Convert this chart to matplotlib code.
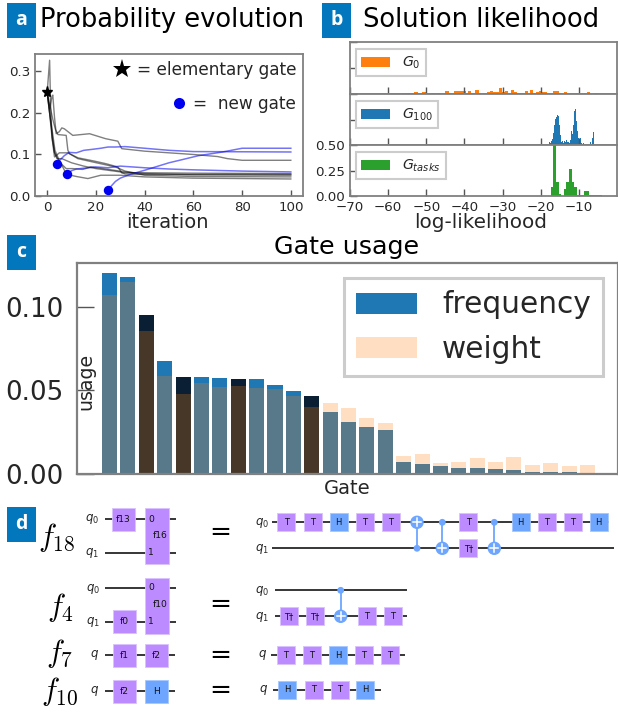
import matplotlib
matplotlib.use("Agg")
import matplotlib.pyplot as plt
from matplotlib.patches import Patch, Rectangle, Circle

# ---------- panel a data
iters_peak = [0, 1, 1.4, 2, 3, 4, 6, 10, 15, 20, 30, 32, 40, 60, 100]
peak = [.25, .327, .22, .14, .105, .09, .09, .08, .072, .066, .058, .053, .052, .052, .052]
iters_g2 = [0, 1, 2, 2.3, 3, 3.7, 5, 6, 7, 10.5, 14, 17.4, 24, 29, 30.6, 40, 60, 70, 74, 80, 100]
g2 = [.25, .21, .24, .243, .19, .15, .155, .164, .162, .146, .148, .15, .138, .132, .114, .108, .1, .095, .09, .086, .086]
iters_g3 = [0, 1, 2.3, 3.4, 4.4, 7.8, 8.5, 9.2, 12.6, 19.4, 24, 29, 30.6, 40, 60, 100]
g3 = [.25, .22, .185, .16, .148, .146, .11, .102, .092, .084, .078, .07, .056, .056, .055, .054]
iters_g4 = [0, 1, 2, 3, 5, 8.5, 12.6, 19.4, 28, 32, 40, 60, 100]
g4 = [.25, .2, .14, .094, .104, .104, .09, .081, .07, .06, .05, .047, .046]
iters_g5 = [0, 1, 2, 3, 5, 7.8, 10.5, 14.6, 18, 24, 32, 40, 60, 100]
g5 = [.25, .2, .15, .105, .082, .066, .066, .064, .07, .065, .058, .054, .051, .05]
iters_g6 = [0, 1, 2, 3.2, 5, 8, 12, 16.7, 22, 30, 40, 60, 100]
g6 = [.25, .2, .16, .11, .085, .052, .047, .042, .05, .05, .046, .043, .041]
gray_runs = [(iters_peak, peak), (iters_g2, g2), (iters_g3, g3), (iters_g4, g4), (iters_g5, g5), (iters_g6, g6)]

iters_b1 = [4, 5, 7, 9, 12, 15, 18, 22, 25, 28, 32, 40, 50, 60, 100]
b1 = [.077, .085, .097, .105, .104, .11, .112, .115, .118, .118, .119, .115, .11, .107, .106]
iters_b2 = [8, 9, 10, 12, 15, 20, 25, 30, 40, 50, 60, 80, 100]
b2 = [.052, .056, .061, .065, .067, .07, .068, .072, .068, .065, .063, .06, .058]
iters_b3 = [25, 26, 28, 30, 34, 40, 50, 55, 62, 72, 80, 100]
b3 = [.015, .022, .035, .043, .052, .062, .08, .087, .097, .106, .115, .115]
blue_runs = [(iters_b1, b1), (iters_b2, b2), (iters_b3, b3)]
star_iter, star_val = [0], [.25]
new_iter = [4, 8, 25]
new_val = [.077, .052, .015]

# ---------- panel b data
g0_edges = [-55.5, -53.2, -52.3, -51.1, -50.1, -48.8, -47.9, -47.4, -46.5, -45, -44.1, -42.8, -39.7, -39.1,
            -38.25, -37.1, -36.06, -33.96, -33.17, -32.38, -31.06, -30.27, -29.48, -28.69, -27.9, -27.12,
            -26.33, -24.22, -23.43, -22.9, -22.12, -21.33, -20.54, -19.75, -18.43, -16.85, -15.27, -13.96,
            -13.17, -11.06, -10.27, -8.69, -7.9, -7.12, -5.8, -5.0]
g0_vals = [.01, .02, .01, .015, 0, .01, 0, .01, 0, .03, .01, .03, .01, .03, .01, .04, .01, .02, .03, .02, .06,
           .02, .03, .01, .04, .02, .01, .03, 0, .04, .01, .02, .03, .02, 0, .03, 0, .02, 0, .01, 0, .01, .02,
           0, .01]
g100_x = [-20.54, -18.7, -18.43, -17.9, -17.64, -17.38, -17.12, -16.85, -16.59, -16.33, -16.06, -15.8, -15.54,
          -15.27, -15.01, -14.75, -14.48, -14.22, -13.96, -13.69, -13.43, -13.17, -12.91, -12.64, -12.38,
          -12.12, -11.85, -11.59, -11.33, -11.06, -10.8, -10.54, -10.27, -10.01, -9.75, -9.48, -9.22, -8.96,
          -7.64, -7.12, -6.59, -6.33]
g100_vals = [.01, .01, .01, .03, .02, .04, .06, .12, .2, .255, .275, .295, .285, .2, .1, .03, .04, .02, .04,
             .03, .05, .03, .03, .02, .05, .14, .11, .2, .335, .355, .235, .14, .07, .04, .07, .02, .01, .02,
             .01, .03, .07, .13]
gt_edges = [-17.4, -16.85, -16.06, -15.27, -14.75, -14.0, -13.4, -12.6, -11.85, -11.3, -10.5, -8.7, -7.4, -4.75, -4.0]
gt_vals = [.085, .6, .14, .02, 0, .07, .14, .265, .14, .09, .005, .05, .005, .01]

# ---------- panel c data
freq = [.1204, .118, .0952, .0677, .0581, .0581, .0575, .0569, .0569, .0533, .0497, .0467, .0371, .0311, .0281,
        .0263, .0072, .006, .0048, .0036, .0036, .003, .0024, .0012, .0012, .0012, .0006]
weight = [.1072, .115, .0856, .0587, .0479, .0545, .0521, .0527, .0515, .0509, .0467, .0401, .0425, .0395, .0335,
          .0305, .0108, .012, .0066, .0072, .0096, .0072, .0102, .0054, .0066, .0048, .0054]
elementary = [2, 4, 7, 11]

# ---------- panel d data
PURPLE, GBLUE = "#bb8bff", "#6ea6ff"
row_f18_q0 = ["T", "T", "H", "T", "T"]
row_f18_rest = ["H", "T", "T", "H"]
row_f4 = ["T†", "T†"]
row_f7 = ["T", "T", "H", "T", "T"]
row_f10 = ["H", "T", "T", "H"]

W, H = 618, 713
DPI = 100
TXT = "#262626"
SPINE = "#808080"
plt.rcParams["font.family"] = "DejaVu Sans"
plt.rcParams["mathtext.fontset"] = "dejavusans"
fig = plt.figure(figsize=(W / DPI, H / DPI), dpi=DPI, facecolor="white")


def axes_px(l, t, r, b):
    return fig.add_axes([l / W, 1 - b / H, (r - l) / W, (b - t) / H])


def style(ax, lab=9.6, length=4, lw=1.3):
    for s in ax.spines.values():
        s.set_color(SPINE)
        s.set_linewidth(lw)
    ax.tick_params(direction="in", length=length, width=1.0, color="#555555", labelsize=lab,
                   labelcolor=TXT, pad=3.5)


# ---------- panel a
ax = axes_px(35, 54, 303, 196)
for xs, ys in gray_runs:
    ax.plot(xs, ys, color="#000000", alpha=.5, lw=1.0)
for xs, ys in blue_runs:
    ax.plot(xs, ys, color="#0000ee", alpha=.55, lw=1.1)
ax.plot(star_iter, star_val, "*", color="k", ms=8, zorder=5)
ax.plot(new_iter, new_val, "o", color="#0000f0", ms=6.8, mew=0, zorder=5)
ax.set_xlim(-5, 105)
ax.set_ylim(0, .342)
ax.set_xticks([0, 20, 40, 60, 80, 100])
ax.set_yticks([0, .1, .2, .3])
ax.set_yticklabels(["0.0", "0.1", "0.2", "0.3"])
style(ax)
ax.text(.975, .885, "= elementary gate", transform=ax.transAxes, ha="right", va="center", fontsize=12.2, color=TXT)
ax.text(.975, .645, "=  new gate", transform=ax.transAxes, ha="right", va="center", fontsize=12.2, color=TXT)
ax.plot([.325], [.894], "*", transform=ax.transAxes, color="k", ms=14, mew=0)
ax.plot([.537], [.655], "o", transform=ax.transAxes, color="#0000f0", ms=8, mew=0)

# ---------- panel b
rows = [(42, 94), (94, 145), (145, 196)]
bax = [axes_px(350, t, 617, b) for t, b in rows]
bax[0].stairs(g0_vals, g0_edges, fill=True, color="C1")
bax[1].bar(g100_x, g100_vals, width=.263, align="edge", color="C0")
bax[2].stairs(gt_vals, gt_edges, fill=True, color="C2")
labels = [("$G_0$", "C1"), ("$G_{100}$", "C0"), ("$G_{tasks}$", "C2")]
for i, (a, (lb, c)) in enumerate(zip(bax, labels)):
    a.set_xlim(-70, 0)
    a.set_ylim(0, .5)
    a.set_xticks(range(-70, 0, 10))
    a.set_yticks([0, .25, .5])
    style(a, length=5)
    if i < 2:
        a.tick_params(labelbottom=False, labelleft=False)
    else:
        a.set_yticklabels(["0.00", "0.25", "0.50"])
    leg = a.legend([Patch(facecolor=c, edgecolor="none")], [lb], loc="upper left", fontsize=10.2, handlelength=2.05,
                   handleheight=.72, handletextpad=.8, borderpad=.38, borderaxespad=.0,
                   bbox_to_anchor=(.022, .86), fancybox=False, framealpha=1, edgecolor="#cccccc")
    leg.get_frame().set_linewidth(1.5)
    for t in leg.get_texts():
        t.set_color(TXT)

# ---------- panel c
cax = axes_px(77, 263, 618, 474)
idx = list(range(len(freq)))
colors = ["#0a1f33" if i in elementary else "C0" for i in idx]
cax.bar(idx, freq, width=.82, color=colors)
cax.bar(idx, weight, width=.82, color="C1", alpha=.25)
cax.set_xlim(-1.77, 27.66)
cax.set_ylim(0, .1263)
cax.set_xticks([])
cax.set_yticks([0, .05, .1])
cax.set_yticklabels(["0.00", "0.05", "0.10"])
style(cax, lab=18.8, length=12, lw=1.6)
cax.tick_params(pad=10)
leg = cax.legend([Patch(facecolor="C0", edgecolor="none"), Patch(facecolor="C1", alpha=.25, edgecolor="none")],
                 ["frequency", "weight"], loc="upper left",
                 bbox_to_anchor=((344 - 77) / 541, (474 - 278) / 211), borderaxespad=0, fontsize=21.3,
                 handlelength=2.06, handleheight=.72, handletextpad=.84, labelspacing=.52, borderpad=.42,
                 fancybox=False, framealpha=1, edgecolor="#cccccc")
leg.get_frame().set_linewidth(2.2)
for t in leg.get_texts():
    t.set_color(TXT)

# ---------- overlay in pixel coordinates
ov = fig.add_axes([0, 0, 1, 1], zorder=10)
ov.set_xlim(0, W)
ov.set_ylim(H, 0)
ov.axis("off")
ov.patch.set_alpha(0)

for letter, x, y in [("a", 7, 3), ("b", 322, 3), ("c", 7, 235), ("d", 7, 507)]:
    ov.add_patch(Rectangle((x, y), 29, 35, color="#0277bd", lw=0))
    ov.text(x + 14.5, y + 17, letter, color="white", fontsize=14, fontweight="bold", family="Open Sans",
            ha="center", va="center")

ov.text(40, 20, "Probability evolution", fontsize=18.5, color="k", va="center", ha="left")
ov.text(363, 20, "Solution likelihood", fontsize=18.5, color="k", va="center", ha="left")
ov.text(347, 247, "Gate usage", fontsize=18.3, color="k", va="center", ha="center")
ov.text(167, 223, "iteration", fontsize=14, color=TXT, va="center", ha="center")
ov.text(481, 223, "log-likelihood", fontsize=14.4, color=TXT, va="center", ha="center")
ov.text(347, 488, "Gate", fontsize=14, color=TXT, va="center", ha="center")
ov.text(86, 381, "usage", fontsize=13.6, color=TXT, rotation=90, va="center", ha="center")


def wire(x0, x1, y):
    ov.plot([x0, x1], [y, y], color="k", lw=1.1, solid_capstyle="butt", zorder=1)


def gate(cx, cy, w, h, label, color=PURPLE, fs=6.6):
    ov.add_patch(Rectangle((cx - w / 2, cy - h / 2), w, h, facecolor=color, edgecolor="#d9c2ff" if color == PURPLE
                           else "#a5c8ff", lw=.6, zorder=2))
    ov.text(cx, cy, label, fontsize=fs, ha="center", va="center", color="#111111", zorder=3)


def cnot(cx, yc, yt):
    ov.plot([cx, cx], [yc, yt], color=GBLUE, lw=1.3, zorder=2)
    ov.add_patch(Circle((cx, yc), 2.7, color=GBLUE, zorder=3))
    ov.add_patch(Circle((cx, yt), 6, color=GBLUE, zorder=3))
    ov.plot([cx - 4, cx + 4], [yt, yt], color="white", lw=1.1, zorder=4)
    ov.plot([cx, cx], [yt - 4, yt + 4], color="white", lw=1.1, zorder=4)


def qlabel(x, y, s, fs=8.5):
    ov.text(x, y, s, fontsize=fs, ha="center", va="center", color=TXT)


def seq(names, centers, y):
    for n, c in zip(names, centers):
        gate(c, y, 18, 18, n, GBLUE if n == "H" else PURPLE, fs=6)


# left column of circuits
for name, x, y, fs in [("$f_{18}$", 57, 537, 22), ("$f_{4}$", 61, 607, 22), ("$f_{7}$", 60, 653, 22),
                       ("$f_{10}$", 60, 692, 22)]:
    ov.text(x, y, name, fontsize=fs, ha="center", va="center", math_fontfamily="cm", color="k")
for y in [533, 605, 656, 691]:
    ov.text(220.5, y, "=", fontsize=19, ha="center", va="center", color="k")

wire(105, 176, 519.3); wire(105, 176, 552.7)
qlabel(92, 519, "$q_0$"); qlabel(92, 553, "$q_1$")
gate(123.5, 519.5, 23, 23, "f13")
gate(157, 536, 24, 56, "")
ov.text(151, 519.5, "0", fontsize=6.6, ha="center", va="center", color="#111111", zorder=3)
ov.text(151, 552.5, "1", fontsize=6.6, ha="center", va="center", color="#111111", zorder=3)
ov.text(160.5, 535, "f16", fontsize=6.6, ha="center", va="center", color="#111111", zorder=3)

wire(105, 176, 588.3); wire(105, 176, 621.7)
qlabel(93, 589, "$q_0$"); qlabel(93, 622, "$q_1$")
gate(124, 621.5, 23, 23, "f0")
gate(157, 605.5, 24, 56, "")
ov.text(151, 588, "0", fontsize=6.6, ha="center", va="center", color="#111111", zorder=3)
ov.text(151, 621, "1", fontsize=6.6, ha="center", va="center", color="#111111", zorder=3)
ov.text(160.5, 604.5, "f10", fontsize=6.6, ha="center", va="center", color="#111111", zorder=3)

wire(105, 175, 655.3)
qlabel(95, 655, "$q$")
gate(124, 655.5, 23, 23, "f1"); gate(156.5, 655.5, 23, 23, "f2")
wire(105, 175, 691)
qlabel(95, 690.5, "$q$")
gate(124, 691.5, 23, 23, "f2"); gate(156.5, 691.5, 23, 23, "H", GBLUE)

# right column of circuits
wire(272, 609, 522.3); wire(272, 614, 548.3)
qlabel(262, 522.5, "$q_0$"); qlabel(262, 548.5, "$q_1$")
seq(row_f18_q0, [286.3, 312.7, 338.7, 364.7, 390.7], 522.3)
cnot(417, 548.3, 522.3); cnot(442.3, 522.3, 548.3)
gate(468.3, 522.3, 18, 18, "T", fs=6); gate(468.3, 548.3, 18, 18, "T†", fs=6)
cnot(494.3, 522.3, 548.3)
seq(row_f18_rest, [520.7, 546.7, 572.7, 598.7], 522.3)

wire(275, 407, 590.3); wire(275, 407, 616.3)
qlabel(262, 590.5, "$q_0$"); qlabel(262, 616.5, "$q_1$")
seq(row_f4, [288.7, 314.7], 616.3)
cnot(340.7, 590.3, 616.3)
seq(["T", "T"], [366.7, 392.7], 616.3)

wire(271, 405, 655)
qlabel(263, 655, "$q$")
seq(row_f7, [285.7, 312, 338, 364, 390], 655)

wire(273, 381, 690)
qlabel(264, 690, "$q$")
seq(row_f10, [287.3, 313.7, 339.7, 365.3], 690)

fig.savefig("out.png", dpi=DPI)
